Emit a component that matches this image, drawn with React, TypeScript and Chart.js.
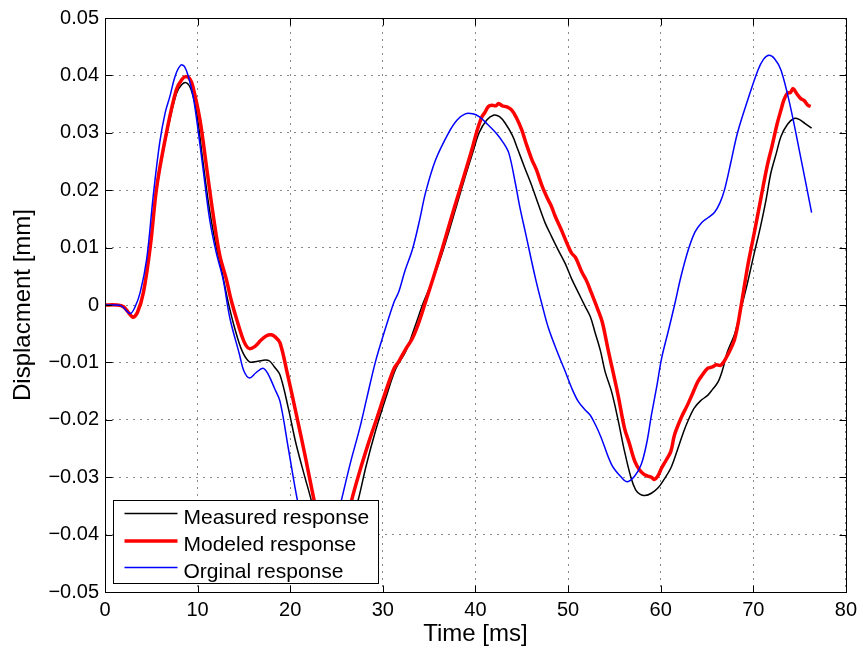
import React, { useEffect, useRef } from "react";
import { Chart, registerables } from "chart.js";

Chart.register(...registerables);

// ---- Data (time in ms, displacement in mm) ----
const originalT = [0, 1.0, 1.8, 2.7, 3.2, 3.8, 4.5, 5.2, 5.9, 6.5, 7.0, 7.6, 8.2, 8.6, 9.0, 9.5, 9.9, 10.6, 11.3, 12.0, 12.75, 13.5, 14.5, 15.0, 15.6, 16.3, 17.05, 17.6, 18.3, 18.9, 19.8, 20.8, 21.8, 22.7, 23.3, 24.0, 24.7, 25.5, 26.5, 27.5, 28.3, 29.2, 30.2, 31.2, 31.7, 32.4, 33.2, 34.0, 34.6, 35.7, 37.1, 38.0, 38.9, 39.7, 40.4, 41.3, 42.2, 43.0, 43.6, 44.3, 44.8, 45.4, 46.5, 47.2, 47.9, 48.8, 49.7, 50.4, 51.1, 51.8, 52.4, 53.0, 53.6, 54.7, 55.8, 56.4, 57.2, 57.9, 58.5, 59.0, 59.6, 60.1, 60.8, 61.5, 62.2, 63.0, 63.7, 64.4, 65.1, 65.8, 66.4, 66.9, 67.6, 68.3, 69.4, 70.5, 71.1, 71.7, 72.3, 73.0, 74.0, 75.1, 76.3];
const originalY = [0, 0, -0.0002, -0.0015, -0.0005, 0.0022, 0.008, 0.0189, 0.0282, 0.0335, 0.0363, 0.04, 0.0418, 0.0415, 0.0398, 0.0365, 0.0323, 0.0236, 0.0149, 0.0092, 0.0045, -0.0024, -0.0085, -0.0115, -0.0127, -0.0118, -0.011, -0.012, -0.0145, -0.0168, -0.025, -0.0342, -0.041, -0.0445, -0.0455, -0.044, -0.0395, -0.0342, -0.0275, -0.0215, -0.016, -0.0099, -0.0045, 0.0005, 0.0022, 0.006, 0.0097, 0.015, 0.0195, 0.0253, 0.03, 0.0322, 0.0333, 0.0333, 0.0328, 0.0315, 0.03, 0.0283, 0.0265, 0.0213, 0.017, 0.0126, 0.0045, 0.0, -0.0041, -0.008, -0.0116, -0.0145, -0.0168, -0.0182, -0.0192, -0.021, -0.0232, -0.0278, -0.0301, -0.0308, -0.0298, -0.0278, -0.024, -0.0192, -0.014, -0.0093, -0.0047, 0.0, 0.005, 0.0097, 0.0127, 0.0143, 0.0152, 0.0161, 0.0178, 0.0201, 0.025, 0.03, 0.0357, 0.0409, 0.0428, 0.0435, 0.0429, 0.0409, 0.0346, 0.0259, 0.0161];

const measuredT = [0, 1.2, 2.0, 3.0, 3.5, 4.15, 4.9, 5.6, 6.7, 7.7, 8.3, 8.8, 9.3, 9.9, 10.5, 11.2, 11.9, 12.6, 13.3, 14.0, 14.8, 15.6, 16.5, 17.3, 17.8, 18.3, 18.9, 19.8, 20.6, 21.5, 22.3, 23.2, 24.0, 24.7, 25.4, 26.3, 27.3, 28.2, 29.2, 30.3, 31.4, 32.5, 33.5, 34.4, 35.3, 36.2, 37.1, 38.0, 38.9, 39.7, 40.4, 41.2, 42.0, 42.6, 43.2, 44.0, 44.6, 45.3, 46.1, 46.8, 47.5, 48.2, 48.9, 49.7, 50.4, 51.1, 51.8, 52.4, 52.9, 53.5, 54.0, 54.7, 55.4, 56.1, 56.8, 57.3, 57.8, 58.3, 59.0, 59.7, 60.4, 61.1, 61.8, 62.5, 63.0, 63.6, 64.3, 65.1, 65.6, 66.2, 66.7, 67.2, 68.0, 68.7, 69.4, 70.1, 70.8, 71.4, 71.9, 72.5, 73.0, 73.7, 74.4, 75.0, 75.6, 76.3];
const measuredY = [0, 0, -0.0003, -0.002, -0.0012, 0.002, 0.01, 0.0203, 0.03, 0.0368, 0.0384, 0.0387, 0.0375, 0.0335, 0.026, 0.0175, 0.011, 0.006, 0.0005, -0.004, -0.008, -0.0099, -0.0098, -0.0096, -0.0098, -0.0108, -0.0122, -0.018, -0.024, -0.0295, -0.0342, -0.0405, -0.0445, -0.0458, -0.044, -0.0395, -0.0342, -0.028, -0.022, -0.0163, -0.0111, -0.008, -0.0036, 0.0005, 0.004, 0.008, 0.0126, 0.0175, 0.0224, 0.0265, 0.03, 0.0322, 0.0331, 0.0328, 0.0317, 0.0295, 0.027, 0.024, 0.0207, 0.0175, 0.0144, 0.012, 0.0097, 0.0072, 0.0045, 0.0022, -0.0001, -0.002, -0.0047, -0.008, -0.0116, -0.0151, -0.02, -0.0255, -0.0301, -0.0322, -0.033, -0.0332, -0.0328, -0.0319, -0.0303, -0.0284, -0.0253, -0.022, -0.02, -0.018, -0.0167, -0.0157, -0.0147, -0.0134, -0.0112, -0.0082, -0.005, -0.0005, 0.004, 0.009, 0.0138, 0.0185, 0.023, 0.0265, 0.0294, 0.0315, 0.0325, 0.0323, 0.0316, 0.0308];

const modeledT = [0, 1.2, 2.0, 3.0, 3.5, 4.15, 4.9, 5.6, 6.7, 7.7, 8.3, 8.75, 9.2, 9.5, 10.25, 11.0, 11.7, 12.4, 13.1, 13.6, 14.2, 14.8, 15.2, 15.6, 16.2, 16.8, 17.4, 17.95, 18.4, 18.9, 19.7, 20.6, 21.6, 22.6, 23.4, 24.2, 24.8, 25.4, 26.0, 26.6, 27.5, 28.5, 29.4, 30.3, 31.2, 31.7, 32.5, 33.2, 33.9, 34.6, 35.5, 36.4, 37.3, 38.2, 38.9, 39.6, 40.2, 40.7, 41.0, 41.4, 41.8, 42.2, 42.5, 42.9, 43.4, 43.9, 44.4, 45.0, 45.5, 46.1, 46.6, 47.2, 47.8, 48.2, 48.6, 49.3, 50.0, 50.4, 50.8, 51.5, 52.0, 52.5, 53.2, 53.7, 54.3, 55.4, 56.1, 56.6, 57.2, 57.7, 58.2, 58.6, 59.0, 59.3, 59.7, 60.1, 60.6, 61.1, 61.5, 62.2, 62.9, 63.4, 64.0, 64.5, 65.1, 65.6, 66.0, 66.5, 67.2, 68.0, 68.7, 69.4, 70.1, 70.8, 71.5, 72.0, 72.6, 73.0, 73.3, 73.7, 74.0, 74.3, 74.7, 75.1, 75.5, 75.9, 76.2];
const modeledY = [0, 0, -0.0003, -0.0021, -0.0013, 0.0022, 0.0103, 0.0207, 0.0305, 0.0375, 0.0393, 0.0398, 0.0393, 0.038, 0.0323, 0.0236, 0.0155, 0.0086, 0.0045, 0.001, -0.0024, -0.0055, -0.007, -0.0076, -0.0072, -0.0062, -0.0054, -0.0052, -0.0056, -0.0066, -0.012, -0.0186, -0.0262, -0.0342, -0.04, -0.0445, -0.0455, -0.043, -0.0385, -0.0342, -0.029, -0.0238, -0.0195, -0.0151, -0.0111, -0.0099, -0.0076, -0.0058, -0.003, 0.0005, 0.005, 0.0097, 0.0147, 0.0195, 0.0232, 0.027, 0.0305, 0.0328, 0.0335, 0.0346, 0.0348, 0.0347, 0.0351, 0.0347, 0.0345, 0.034, 0.0327, 0.0305, 0.028, 0.0253, 0.0235, 0.0207, 0.0185, 0.0172, 0.0155, 0.013, 0.0103, 0.009, 0.0083, 0.0057, 0.0042, 0.0022, -0.0007, -0.003, -0.0076, -0.0157, -0.0215, -0.024, -0.0272, -0.0287, -0.0295, -0.0298, -0.03, -0.0304, -0.0298, -0.0284, -0.027, -0.0255, -0.0226, -0.0197, -0.0174, -0.0156, -0.0134, -0.0122, -0.011, -0.0108, -0.0104, -0.0105, -0.0088, -0.0059, 0.0, 0.0068, 0.0125, 0.0184, 0.0242, 0.0275, 0.0317, 0.034, 0.0357, 0.0369, 0.037, 0.0377, 0.0368, 0.036, 0.0356, 0.0348, 0.0346];

const seriesLabels = ["Measured response", "Modeled response", "Orginal response"];
const xTitle = "Time [ms]";
const yTitle = "Displacment [mm]";

const FONT = "'Liberation Sans', Arial, Helvetica, sans-serif";

const zip = (t: number[], y: number[]) => t.map((v, i) => ({ x: v, y: y[i] }));

const styles = [
  { color: "#000000", width: 1.5 },
  { color: "#ff0000", width: 3.5 },
  { color: "#0000ff", width: 1.5 },
];

const framePlugin = {
  id: "matlabFrame",
  afterDraw(chart: any) {
    const { ctx, chartArea, scales } = chart;
    const { left, right, top, bottom } = chartArea;
    ctx.save();
    ctx.strokeStyle = "#000";
    ctx.lineWidth = 1;
    const L = Math.round(left) + 0.5;
    const R = Math.round(right) + 0.5;
    const T = Math.round(top) + 0.5;
    const B = Math.round(bottom) + 0.5;
    const tl = 7;
    ctx.beginPath();
    for (const t of scales.x.ticks) {
      const px = Math.round(scales.x.getPixelForValue(t.value)) + 0.5;
      ctx.moveTo(px, B);
      ctx.lineTo(px, B - tl);
      ctx.moveTo(px, T);
      ctx.lineTo(px, T + tl);
    }
    for (const t of scales.y.ticks) {
      const py = Math.round(scales.y.getPixelForValue(t.value)) + 0.5;
      ctx.moveTo(L, py);
      ctx.lineTo(L + tl, py);
      ctx.moveTo(R, py);
      ctx.lineTo(R - tl, py);
    }
    ctx.stroke();
    ctx.strokeRect(L, T, R - L, B - T);

    // legend box (bottom-left inside the axes)
    const bx = L + 8;
    const by = 500.5;
    const bw = 265;
    const bh = 83;
    ctx.fillStyle = "#fff";
    ctx.fillRect(bx, by, bw, bh);
    ctx.strokeRect(bx, by, bw, bh);
    ctx.font = `21px ${FONT}`;
    ctx.textBaseline = "alphabetic";
    ctx.textAlign = "left";
    const rows = [513.5, 541, 567.5];
    seriesLabels.forEach((lab, i) => {
      const y = rows[i];
      ctx.beginPath();
      ctx.strokeStyle = styles[i].color;
      ctx.lineWidth = styles[i].width;
      ctx.moveTo(bx + 11, y);
      ctx.lineTo(bx + 64, y);
      ctx.stroke();
      ctx.fillStyle = "#000";
      ctx.fillText(lab, bx + 70, y + 10);
    });
    ctx.restore();
  },
};

export default function App() {
  const ref = useRef<HTMLCanvasElement | null>(null);
  useEffect(() => {
    if (!ref.current) return;
    const series = [zip(measuredT, measuredY), zip(modeledT, modeledY), zip(originalT, originalY)];
    const chart = new Chart(ref.current, {
      type: "line",
      data: {
        datasets: series.map((d, i) => ({
          label: seriesLabels[i],
          data: d,
          borderColor: styles[i].color,
          backgroundColor: styles[i].color,
          borderWidth: styles[i].width,
          borderJoinStyle: "round" as const,
          pointRadius: 0,
          fill: false,
          tension: 0.35,
          order: 2 - i,
        })),
      },
      options: {
        animation: false,
        responsive: false,
        maintainAspectRatio: false,
        devicePixelRatio: 1,
        layout: { padding: { left: 0, right: 14, top: 15, bottom: 0 } },
        plugins: { legend: { display: false }, tooltip: { enabled: false } },
        scales: {
          x: {
            type: "linear",
            min: 0,
            max: 80,
            ticks: { stepSize: 10, color: "#000", font: { size: 20, family: FONT }, padding: 6, maxRotation: 0 },
            grid: { color: "#888", lineWidth: 1, drawTicks: false },
            border: { display: false, dash: [2, 5] },
            title: { display: true, text: xTitle, color: "#000", font: { size: 24, family: FONT }, padding: { top: 0, bottom: 1 } },
            afterFit: (s: any) => { s.height = 58; },
          },
          y: {
            type: "linear",
            min: -0.05,
            max: 0.05,
            ticks: {
              stepSize: 0.01,
              color: "#000",
              font: { size: 20, family: FONT },
              padding: 6,
              callback: (v: any) => {
                const r = Math.round(Number(v) * 100) / 100;
                if (r === 0) return "0";
                return r < 0 ? "\u2212" + Math.abs(r).toFixed(2) : r.toFixed(2);
              },
            },
            grid: { color: "#888", lineWidth: 1, drawTicks: false },
            border: { display: false, dash: [2, 5] },
            title: { display: true, text: yTitle, color: "#000", font: { size: 24, family: FONT }, padding: { top: 9, bottom: 0 } },
            afterFit: (s: any) => { s.width = 105; },
          },
        },
      },
      plugins: [framePlugin],
    });
    return () => chart.destroy();
  }, []);
  return (
    <div style={{ position: "absolute", left: 0, top: 0, width: 863, height: 650, background: "#fff" }}>
      <canvas ref={ref} width={863} height={650} />
    </div>
  );
}
